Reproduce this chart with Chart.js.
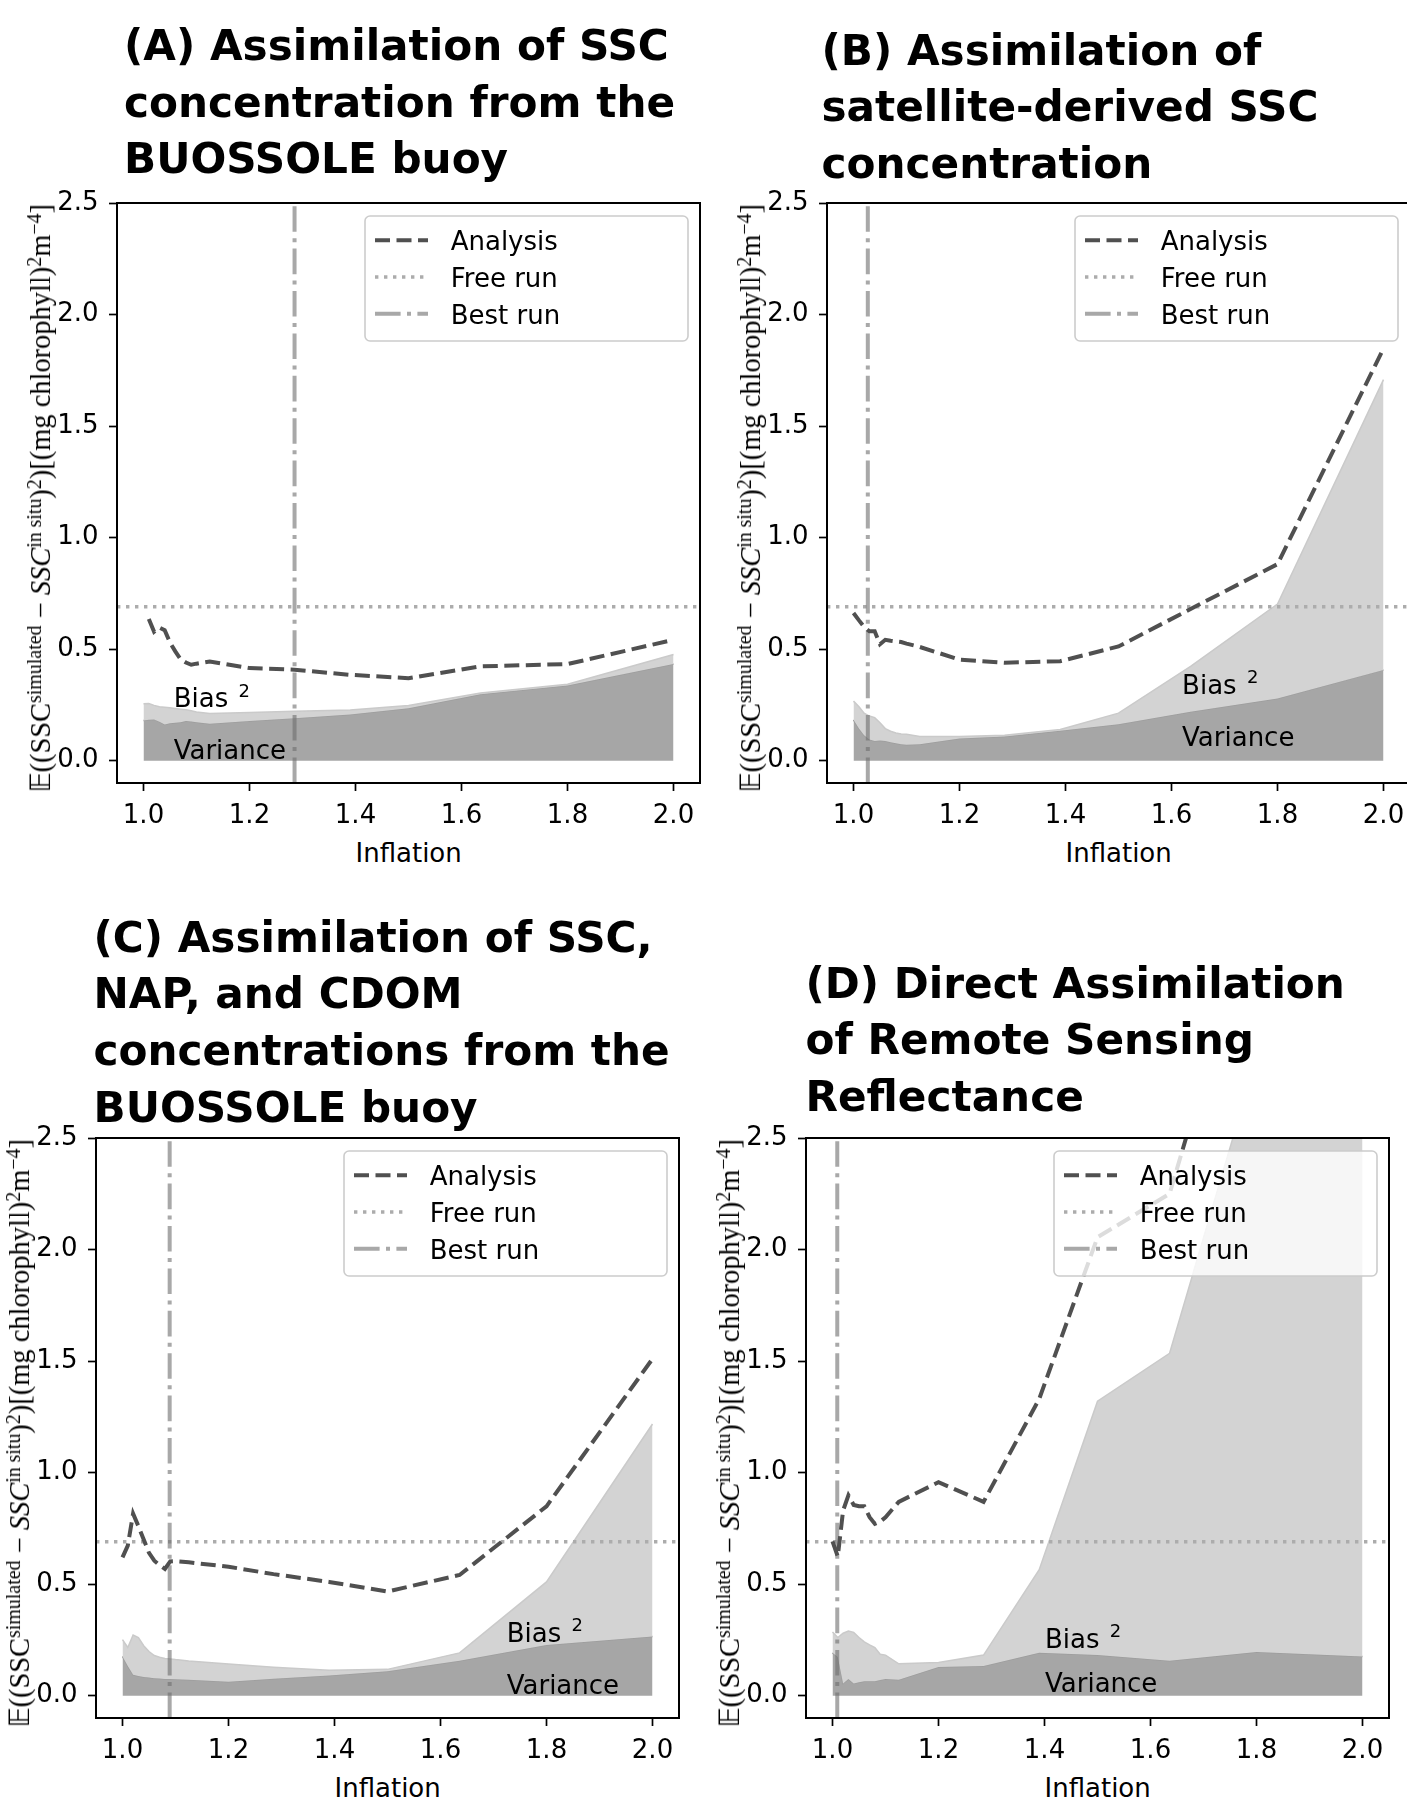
<!DOCTYPE html>
<html>
<head>
<meta charset="utf-8">
<script src="https://cdn.jsdelivr.net/npm/chart.js@4/dist/chart.umd.min.js"></script>
<style>
html, body { margin: 0; padding: 0; background: #fff; overflow: hidden; width: 1407px; height: 1797px; }
body { position: relative; }
canvas { position: absolute; }
.ttl { position: absolute; font-family: "DejaVu Sans"; font-weight: bold; font-size: 42.2px; line-height: 56.7px; white-space: nowrap; color: #000; }
.xl { position: absolute; font-family: "DejaVu Sans"; font-size: 26px; line-height: 30px; white-space: nowrap; color: #000; }
.yl { position: absolute; font-family: "Liberation Serif"; white-space: nowrap; line-height: 1; color: #000; transform-origin: center center; }
.yl .s { position: relative; top: -0.45em; font-size: 0.7em; }
.mk { display: inline-block; width: 0; height: 0; }
</style>
</head>
<body>
<script>
// inflation factors (x axis), shared by all four runs
const inflation = [1.00, 1.01, 1.02, 1.03, 1.04, 1.05, 1.06, 1.07, 1.08, 1.09, 1.10, 1.125, 1.20, 1.285, 1.39, 1.50, 1.636, 1.80, 2.00];
const xTicks = [1.0, 1.2, 1.4, 1.6, 1.8, 2.0];
const yTicks = [0.0, 0.5, 1.0, 1.5, 2.0, 2.5];
const freeRun = 0.69;

// (A) SSC from the BUOSSOLE buoy
const analysisA = [null, 0.635, 0.578, 0.597, 0.585, 0.53, 0.49, 0.455, 0.44, 0.43, 0.435, 0.445, 0.415, 0.408, 0.385, 0.37, 0.423, 0.433, 0.542];
const varianceA = [0.18, 0.183, 0.185, 0.175, 0.162, 0.168, 0.17, 0.172, 0.178, 0.176, 0.172, 0.166, 0.178, 0.19, 0.207, 0.235, 0.298, 0.337, 0.433];
const bias2A = [0.075, 0.073, 0.063, 0.067, 0.078, 0.069, 0.064, 0.059, 0.05, 0.048, 0.046, 0.046, 0.038, 0.032, 0.02, 0.012, 0.005, 0.006, 0.043];
const bestA = 1.285;

// (B) satellite-derived SSC
const analysisB = [0.662, 0.63, 0.60, 0.58, 0.58, 0.522, 0.542, 0.538, 0.535, 0.532, 0.525, 0.51, 0.453, 0.439, 0.446, 0.512, 0.68, 0.881, 1.848];
const varianceB = [0.183, 0.145, 0.114, 0.095, 0.088, 0.09, 0.088, 0.083, 0.078, 0.074, 0.072, 0.074, 0.10, 0.108, 0.134, 0.163, 0.219, 0.279, 0.407];
const bias2B = [0.084, 0.098, 0.099, 0.105, 0.105, 0.08, 0.056, 0.049, 0.046, 0.046, 0.046, 0.034, 0.008, 0.006, 0.006, 0.05, 0.204, 0.423, 1.301];
const bestB = 1.027;

// (C) SSC, NAP and CDOM from the buoy
const analysisC = [0.62, 0.673, 0.816, 0.76, 0.70, 0.64, 0.605, 0.585, 0.568, 0.602, 0.603, 0.598, 0.578, 0.545, 0.51, 0.467, 0.541, 0.849, 1.51];
const varianceC = [0.176, 0.133, 0.094, 0.088, 0.084, 0.081, 0.078, 0.077, 0.075, 0.075, 0.074, 0.071, 0.062, 0.076, 0.09, 0.11, 0.157, 0.227, 0.265];
const bias2C = [0.075, 0.083, 0.178, 0.172, 0.14, 0.117, 0.102, 0.095, 0.092, 0.09, 0.088, 0.085, 0.08, 0.052, 0.024, 0.008, 0.035, 0.283, 0.953];
const bestC = 1.089;

// (D) direct assimilation of Rrs
const analysisD = [0.692, 0.624, 0.83, 0.898, 0.855, 0.849, 0.849, 0.80, 0.77, 0.78, 0.80, 0.869, 0.957, 0.869, 1.33, 2.055, 2.25, 3.57, 4.4];
const varianceD = [0.192, 0.173, 0.055, 0.075, 0.055, 0.06, 0.065, 0.065, 0.065, 0.07, 0.075, 0.071, 0.129, 0.133, 0.192, 0.182, 0.157, 0.196, 0.176];
const bias2D = [0.094, 0.088, 0.225, 0.215, 0.229, 0.201, 0.176, 0.163, 0.151, 0.116, 0.107, 0.072, 0.02, 0.049, 0.373, 1.138, 1.378, 2.664, 2.924];
const bestD = 1.009;

Chart.defaults.font.family = 'DejaVu Sans';
Chart.defaults.font.size = 26;
Chart.defaults.color = '#000';

// axes boxes in page pixels + where the titles / text labels go
var panels = [
  {L: 117, T: 203, R: 700, B: 783, tx: 124, ty: 60,
   title: ['(A) Assimilation of SSC', 'concentration from the', 'BUOSSOLE buoy'],
   an: analysisA, vr: varianceA, b2: bias2A, best: bestA, biasAt: [1.057, 0.24], varAt: [1.057, 0.008]},
  {L: 827, T: 203, R: 1410, B: 783, tx: 821.5, ty: 64.6,
   title: ['(B) Assimilation of', 'satellite-derived SSC', 'concentration'],
   an: analysisB, vr: varianceB, b2: bias2B, best: bestB, biasAt: [1.62, 0.30], varAt: [1.62, 0.064]},
  {L: 96, T: 1138, R: 679, B: 1718, tx: 93.5, ty: 951.7,
   title: ['(C) Assimilation of SSC,', 'NAP, and CDOM', 'concentrations from the', 'BUOSSOLE buoy'],
   an: analysisC, vr: varianceC, b2: bias2C, best: bestC, biasAt: [1.725, 0.241], varAt: [1.725, 0.006]},
  {L: 806, T: 1138, R: 1389, B: 1718, tx: 805.5, ty: 997.5,
   title: ['(D) Direct Assimilation', 'of Remote Sensing', 'Reflectance'],
   an: analysisD, vr: varianceD, b2: bias2D, best: bestD, biasAt: [1.401, 0.216], varAt: [1.401, 0.016]}
];

function rrect(ctx, x, y, w, h, r) {
  ctx.beginPath();
  ctx.moveTo(x + r, y);
  ctx.arcTo(x + w, y, x + w, y + h, r);
  ctx.arcTo(x + w, y + h, x, y + h, r);
  ctx.arcTo(x, y + h, x, y, r);
  ctx.arcTo(x, y, x + w, y, r);
  ctx.closePath();
}

// frame, Bias/Variance labels and the matplotlib-like legend box
var decor = {
  id: 'decor',
  afterDatasetsDraw: function(chart, args, opts) {
    var ctx = chart.ctx, a = chart.chartArea;
    var xs = chart.scales.x, ys = chart.scales.y;
    ctx.save();
    ctx.fillStyle = '#000';
    ctx.textAlign = 'left';
    ctx.textBaseline = 'alphabetic';
    ctx.font = '26px "DejaVu Sans"';
    var bx = xs.getPixelForValue(opts.biasAt[0]), by = ys.getPixelForValue(opts.biasAt[1]);
    ctx.fillText('Bias', bx, by);
    var w = ctx.measureText('Bias ').width;
    ctx.font = '18px "DejaVu Sans"';
    ctx.fillText('2', bx + w + 2, by - 10.6);
    ctx.font = '26px "DejaVu Sans"';
    ctx.fillText('Variance', xs.getPixelForValue(opts.varAt[0]), ys.getPixelForValue(opts.varAt[1]));

    ctx.strokeStyle = '#000';
    ctx.lineWidth = 2;
    ctx.strokeRect(a.left, a.top, a.right - a.left, a.bottom - a.top);

    // legend
    var lw = 323, lh = 125;
    var lx = a.right - 12 - lw, ly = a.top + 13;
    rrect(ctx, lx, ly, lw, lh, 5);
    ctx.fillStyle = 'rgba(255,255,255,0.8)';
    ctx.fill();
    ctx.strokeStyle = '#cccccc';
    ctx.lineWidth = 1.6;
    ctx.stroke();
    var items = ['Analysis', 'Free run', 'Best run'];
    items.forEach(function(name, i) {
      var ds = chart.data.datasets.find(function(d) { return d.label === name; });
      var yb = ly + 34.3 + i * 36.7;
      ctx.setLineDash(ds.borderDash);
      ctx.strokeStyle = ds.borderColor;
      ctx.lineWidth = ds.borderWidth;
      ctx.beginPath();
      ctx.moveTo(lx + 10, yb - 10);
      ctx.lineTo(lx + 63, yb - 10);
      ctx.stroke();
      ctx.setLineDash([]);
      ctx.fillStyle = '#000';
      ctx.fillText(name, lx + 85.7, yb);
    });
    ctx.restore();
  }
};

function addText(cls, html, left, baseline, center) {
  var d = document.createElement('div');
  d.className = cls;
  d.innerHTML = '<span class="mk"></span>' + html;
  document.body.appendChild(d);
  var b = d.querySelector('.mk').offsetTop;
  var x = center ? left - d.offsetWidth / 2 : left;
  d.style.left = x + 'px';
  d.style.top = (baseline - b) + 'px';
  return d;
}

function yLabel(p) {
  var d = document.createElement('div');
  d.className = 'yl';
  d.style.fontSize = '27px';
  d.innerHTML = '<span class="mk"></span>&#x1D53C;((SSC<span class="s">simulated</span> &minus; <i>SSC</i><span class="s">in situ</span>)<span class="s">2</span>)[(mg chlorophyll)<span class="s">2</span>m<span class="s">&minus;4</span>]';
  document.body.appendChild(d);
  var fs = 27 * 590 / d.offsetWidth;
  d.style.fontSize = fs + 'px';
  var w = d.offsetWidth, h = d.offsetHeight;
  var b = d.querySelector('.mk').offsetTop;
  var baseX = p.L - 67;
  var cx = baseX + h / 2 - b;
  var cy = (p.T + p.B) / 2 + 5;
  d.style.left = (cx - w / 2) + 'px';
  d.style.top = (cy - h / 2) + 'px';
  d.style.transform = 'rotate(-90deg)';
}

function pts(arr) {
  return inflation.map(function(x, i) { return {x: x, y: arr[i]}; });
}

function makeChart(p) {
  var padTop = 30;
  var W = (p.R - p.L) + 100 + 12;
  var H = (p.B - p.T) + padTop + 50;
  var cv = document.createElement('canvas');
  cv.width = W; cv.height = H;
  cv.style.width = W + 'px'; cv.style.height = H + 'px';
  cv.style.left = (p.L - 100) + 'px';
  cv.style.top = (p.T - padTop) + 'px';
  document.body.appendChild(cv);

  var total = p.vr.map(function(v, i) { return v + p.b2[i]; });

  new Chart(cv, {
    type: 'line',
    data: {
      datasets: [
        {label: 'Variance', data: pts(p.vr), fill: 'origin', backgroundColor: '#a6a6a6',
         borderColor: '#9d9d9d', borderWidth: 1.5, pointRadius: 0, tension: 0, order: 5, clip: 0},
        {label: 'Bias2', data: pts(total), fill: '-1', backgroundColor: '#d3d3d3',
         borderColor: '#cacaca', borderWidth: 1.5, pointRadius: 0, tension: 0, order: 4, clip: 0},
        {label: 'Free run', data: [{x: 0.95, y: freeRun}, {x: 2.05, y: freeRun}], fill: false,
         borderColor: '#acacac', borderWidth: 3.4, borderDash: [3.4, 5.6], pointRadius: 0, order: 3, clip: 0},
        {label: 'Best run', data: [{x: p.best, y: -0.1}, {x: p.best, y: 2.5}], fill: false,
         borderColor: 'rgba(110,110,110,0.6)', borderWidth: 4, borderDash: [25.6, 6.4, 4, 6.4], pointRadius: 0, order: 2, clip: 0},
        {label: 'Analysis', data: pts(p.an), fill: false,
         borderColor: '#505050', borderWidth: 4, borderDash: [15, 6.5], pointRadius: 0, tension: 0, order: 1, clip: 0}
      ]
    },
    options: {
      responsive: false,
      animation: false,
      devicePixelRatio: 1,
      layout: {padding: {left: 0, top: padTop, right: 12, bottom: 0}},
      plugins: {
        legend: {display: false},
        tooltip: {enabled: false},
        decor: {biasAt: p.biasAt, varAt: p.varAt}
      },
      scales: {
        x: {
          type: 'linear', min: 0.95, max: 2.05,
          afterBuildTicks: function(s) { s.ticks = xTicks.map(function(v) { return {value: v}; }); },
          afterFit: function(s) { s.height = 50; },
          ticks: {padding: 10, maxRotation: 0, autoSkip: false, callback: function(v) { return v.toFixed(1); }},
          grid: {drawOnChartArea: false, tickLength: 8, tickWidth: 1.7, tickColor: '#000'},
          border: {display: false}
        },
        y: {
          type: 'linear', min: -0.1, max: 2.5,
          afterBuildTicks: function(s) { s.ticks = yTicks.map(function(v) { return {value: v}; }); },
          afterFit: function(s) { s.width = 100; },
          ticks: {padding: 10.5, autoSkip: false, callback: function(v) { return v.toFixed(1); }},
          grid: {drawOnChartArea: false, tickLength: 8, tickWidth: 1.7, tickColor: '#000'},
          border: {display: false}
        }
      }
    },
    plugins: [decor]
  });

  addText('ttl', p.title.join('<br>'), p.tx, p.ty, false);
  addText('xl', 'Inflation', (p.L + p.R) / 2, p.B + 79, true);
  yLabel(p);
}

panels.forEach(makeChart);
</script>
</body>
</html>
